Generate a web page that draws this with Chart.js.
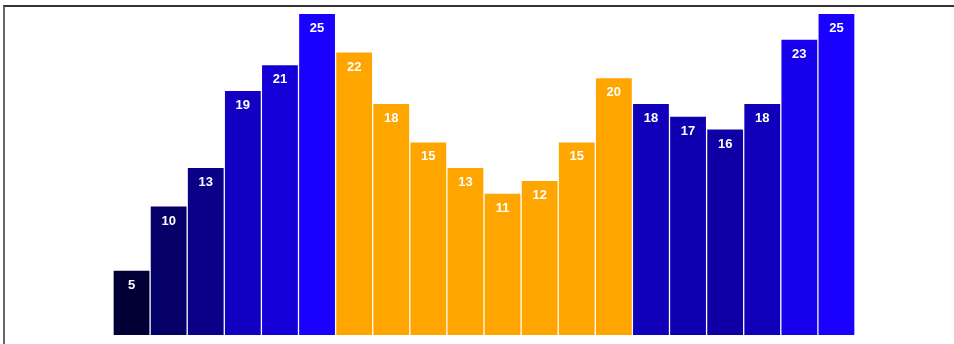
<!DOCTYPE html>
<html>
<head>
<meta charset="utf-8">
<script src="https://cdn.jsdelivr.net/npm/chart.js@4"></script>
<style>
  html, body { margin: 0; padding: 0; background: #fff; }
  body { width: 954px; height: 344px; position: relative; overflow: hidden; }
  #frame { position: absolute; left: 3px; top: 5px; width: 960px; height: 350px;
           border-top: 2px solid #333; border-left: 2px solid #666; box-sizing: border-box; }
  #wrap { position: absolute; left: 0; top: 0; width: 954px; height: 344px; }
</style>
</head>
<body>
<div id="frame"></div>
<div id="wrap"><canvas id="c" width="954" height="344"></canvas></div>
<script>
const categories = ["1","2","3","4","5","6","7","8","9","10","11","12","13","14","15","16","17","18","19","20"];
const values = [5, 10, 13, 19, 21, 25, 22, 18, 15, 13, 11, 12, 15, 20, 18, 17, 16, 18, 23, 25];
const highlighted = [false,false,false,false,false,false,true,true,true,true,true,true,true,true,false,false,false,false,false,false];

const colors = values.map((v, i) => {
  if (highlighted[i]) return '#ffa500';
  const r = Math.round(Math.max(0, v - 5) * 1.25);
  const b = Math.min(255, v * 10 + 5);
  return `rgb(${r},0,${b})`;
});

const labelPlugin = {
  id: 'valueLabels',
  afterDatasetsDraw(chart) {
    const ctx = chart.ctx;
    const meta = chart.getDatasetMeta(0);
    ctx.save();
    ctx.fillStyle = '#ffffff';
    ctx.font = 'bold 13px "Liberation Sans", Arial, Helvetica, sans-serif';
    ctx.textAlign = 'center';
    ctx.textBaseline = 'alphabetic';
    meta.data.forEach((bar, i) => {
      ctx.fillText(String(values[i]), bar.x, bar.y + 18);
    });
    ctx.restore();
  }
};

new Chart(document.getElementById('c'), {
  type: 'bar',
  data: {
    labels: categories,
    datasets: [{
      data: values,
      backgroundColor: colors,
      borderWidth: 0,
      categoryPercentage: 1.0,
      barPercentage: 0.965
    }]
  },
  options: {
    responsive: false,
    animation: false,
    events: [],
    layout: { padding: { left: 113, right: 99, top: 14, bottom: 9 } },
    plugins: { legend: { display: false }, tooltip: { enabled: false } },
    scales: {
      x: { display: false, offset: true },
      y: { display: false, min: 0, max: 25 }
    }
  },
  plugins: [labelPlugin]
});
</script>
</body>
</html>
